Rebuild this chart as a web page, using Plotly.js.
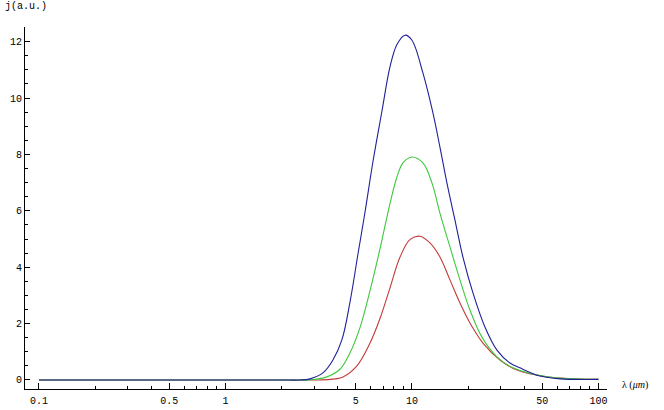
<!DOCTYPE html>
<html>
<head>
<meta charset="utf-8">
<script src="https://cdn.plot.ly/plotly-3.0.1.min.js"></script>
<style>html,body{margin:0;padding:0;background:#fff;}#chart{width:664px;height:410px;}</style>
</head>
<body>
<div id="chart"></div>
<script>
// wavelength (µm) and intensity (a.u.)
const blueX = [0.1, 0.5, 1, 2, 2.5, 2.84, 3.33, 3.77, 4.21, 4.65, 5.13, 5.60, 6.18, 6.91, 7.62, 8.31, 9.17, 10.0, 11.45, 12.96, 14.13, 15.40, 17.01, 18.77, 21.24, 24.63, 28.57, 33.54, 37.9, 48.6, 62.2, 100];
const blueY = [0, 0, 0, 0, 0, 0.04, 0.25, 0.71, 1.42, 2.75, 4.45, 5.95, 7.75, 9.55, 11.1, 11.9, 12.23, 12.05, 10.89, 9.47, 8.26, 6.99, 5.67, 4.36, 3.09, 1.88, 1.06, 0.60, 0.43, 0.14, 0.04, 0.02];

const greenX = [0.1, 0.5, 1, 2, 2.8, 3.5, 4.11, 4.65, 5.26, 5.95, 6.74, 7.62, 8.31, 8.95, 10.0, 11.45, 12.80, 14.13, 15.99, 18.09, 20.47, 23.74, 28.57, 34.8, 53.0, 100];
const greenY = [0, 0, 0, 0, 0, 0.11, 0.38, 0.96, 1.85, 3.15, 4.65, 6.25, 7.20, 7.70, 7.91, 7.70, 6.99, 5.92, 4.72, 3.55, 2.48, 1.52, 0.82, 0.43, 0.11, 0.02];

const redX = [0.1, 0.5, 1, 2, 3.0, 3.63, 4.27, 5.07, 5.95, 6.74, 7.62, 8.62, 9.75, 11.04, 12.49, 14.13, 15.99, 18.09, 20.47, 24.03, 29.64, 36.56, 53.0, 100];
const redY = [0, 0, 0, 0, 0, 0.02, 0.11, 0.50, 1.30, 2.18, 3.26, 4.35, 4.98, 5.10, 4.86, 4.36, 3.55, 2.73, 2.02, 1.31, 0.71, 0.35, 0.11, 0.02];

const xTickVals = [0.1, 0.5, 1, 5, 10, 50, 100];
const xTickText = ['0.1', '0.5', '1', '5', '10', '50', '100'];
const xMinorVals = [0.2, 0.3, 0.4, 0.6, 0.7, 0.8, 0.9, 2, 3, 4, 6, 7, 8, 9, 20, 30, 40, 60, 70, 80, 90];
const yTickVals = [0, 2, 4, 6, 8, 10, 12];

const tickFont = {family: 'Liberation Mono, DejaVu Sans Mono, monospace', size: 10, color: '#000'};

const mk = (x, y, c) => ({
  x: x, y: y, type: 'scatter', mode: 'lines',
  line: {color: c, width: 1.1, shape: 'spline', smoothing: 1},
  hoverinfo: 'skip', showlegend: false
});

const data = [
  mk(redX, redY, '#c43a3a'),
  mk(greenX, greenY, '#3ec83e'),
  mk(blueX, blueY, '#20209a')
];

const layout = {
  width: 664, height: 410,
  margin: {l: 25, r: 57, t: 27, b: 21},
  paper_bgcolor: '#fff', plot_bgcolor: '#fff',
  showlegend: false,
  xaxis: {
    type: 'log', range: [-1.075, 2.046],
    tickmode: 'array', tickvals: xTickVals, ticktext: xTickText,
    ticks: 'inside', ticklen: 6, tickwidth: 1, tickcolor: '#000',
    minor: {tickmode: 'array', tickvals: xMinorVals, ticks: 'inside', ticklen: 3, tickwidth: 1, tickcolor: '#000', showgrid: false},
    showline: true, linecolor: '#000', linewidth: 1,
    showgrid: false, zeroline: false,
    tickfont: tickFont, ticklabelstandoff: 2
  },
  yaxis: {
    range: [-0.32, 12.52],
    tickmode: 'array', tickvals: yTickVals,
    ticks: 'inside', ticklen: 5, tickwidth: 1, tickcolor: '#000',
    minor: {dtick: 0.5, ticks: 'inside', ticklen: 3, tickwidth: 1, tickcolor: '#000', showgrid: false},
    showline: true, linecolor: '#000', linewidth: 1,
    showgrid: false, zeroline: false,
    tickfont: tickFont
  },
  annotations: [
    {text: 'j(a.u.)', xref: 'paper', yref: 'paper', x: -0.038, y: 1.058, xanchor: 'left', yanchor: 'middle', showarrow: false, font: {family: 'Liberation Mono, monospace', size: 10, color: '#000'}},
    {text: 'λ (<i>μm</i>)', xref: 'paper', yref: 'paper', x: 1.022, y: 0.01, xanchor: 'left', yanchor: 'middle', showarrow: false, font: {family: 'Liberation Serif, serif', size: 10, color: '#000'}}
  ]
};

Plotly.newPlot('chart', data, layout, {staticPlot: true, displayModeBar: false});
</script>
</body>
</html>
